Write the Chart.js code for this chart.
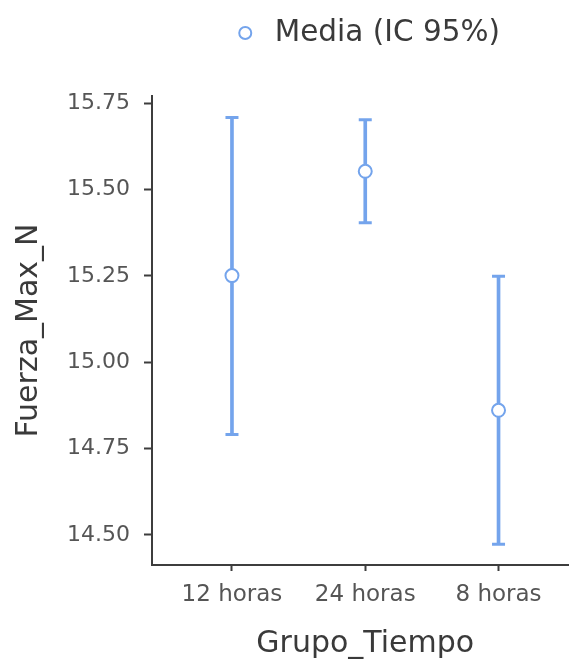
<!DOCTYPE html>
<html>
<head>
<meta charset="utf-8">
<script src="https://cdn.jsdelivr.net/npm/chart.js@4.4.1/dist/chart.umd.min.js"></script>
<style>
  html, body { margin: 0; padding: 0; background: #ffffff; overflow: hidden; width: 569px; height: 662px; }
  canvas { display: block; }
</style>
</head>
<body>
<canvas id="chart" width="588" height="662"></canvas>
<script>
// Group means of Fuerza_Max_N with their 95% confidence intervals
const groups = ['12 horas', '24 horas', '8 horas'];
const means = [15.251, 15.553, 14.861];
const ciLower = [14.791, 15.404, 14.473];
const ciUpper = [15.709, 15.702, 15.249];
const yTicks = [14.50, 14.75, 15.00, 15.25, 15.50, 15.75];

const legendLabel = 'Media (IC 95%)';
const xTitle = 'Grupo_Tiempo';
const yTitle = 'Fuerza_Max_N';

const blue = '#74a4ec';
const axisColor = '#3d3d3d';
const tickLabelColor = '#555555';
const titleColor = '#3a3a3a';
const fontFamily = 'DejaVu Sans';

const pos = (i) => i + 1;

new Chart(document.getElementById('chart'), {
  type: 'bar',
  data: {
    datasets: [
      {
        type: 'line',
        label: legendLabel,
        data: means.map((m, i) => ({ x: pos(i), y: m })),
        xAxisID: 'x', yAxisID: 'y',
        showLine: false,
        pointStyle: 'circle',
        pointRadius: 6.5,
        pointHoverRadius: 6.5,
        pointBackgroundColor: '#ffffff',
        pointBorderColor: blue,
        pointBorderWidth: 2,
        borderColor: blue,
        backgroundColor: '#ffffff',
        order: 0
      },
      {
        type: 'line',
        label: 'upper',
        data: ciUpper.map((v, i) => ({ x: pos(i), y: v })),
        xAxisID: 'x', yAxisID: 'y',
        showLine: false,
        pointStyle: 'line',
        pointRadius: 6.5,
        pointHoverRadius: 6.5,
        pointBorderColor: blue,
        pointBorderWidth: 3,
        order: 1
      },
      {
        type: 'line',
        label: 'lower',
        data: ciLower.map((v, i) => ({ x: pos(i), y: v })),
        xAxisID: 'x', yAxisID: 'y',
        showLine: false,
        pointStyle: 'line',
        pointRadius: 6.5,
        pointHoverRadius: 6.5,
        pointBorderColor: blue,
        pointBorderWidth: 3,
        order: 1
      },
      {
        type: 'bar',
        label: 'ci',
        data: groups.map((g, i) => ({ x: pos(i), y: [ciLower[i], ciUpper[i]] })),
        xAxisID: 'x', yAxisID: 'y',
        backgroundColor: blue,
        borderWidth: 0,
        barThickness: 3,
        order: 2
      }
    ]
  },
  options: {
    responsive: false,
    animation: false,
    events: [],
    layout: { padding: 0 },
    plugins: {
      legend: {
        display: true,
        position: 'top',
        fullSize: false,
        labels: {
          filter: (item) => item.datasetIndex === 0,
          usePointStyle: true,
          boxWidth: 29.5,
          boxHeight: 8.5,
          padding: 18.25,
          color: titleColor,
          font: { family: fontFamily, size: 29.5 }
        }
      },
      tooltip: { enabled: false }
    },
    scales: {
      x: {
        type: 'linear',
        position: 'bottom',
        offset: false,
        min: 0.4,
        max: 3.6,
        afterBuildTicks: (s) => { s.ticks = groups.map((g, i) => ({ value: pos(i) })); },
        afterFit: (s) => { s.height = 97; },
        ticks: {
          callback: (v) => groups[v - 1],
          autoSkip: false,
          maxRotation: 0,
          padding: 10.5,
          color: tickLabelColor,
          font: { family: fontFamily, size: 23 }
        },
        grid: {
          display: true,
          offset: false,
          drawOnChartArea: false,
          drawTicks: true,
          tickLength: 6,
          tickWidth: 2,
          tickColor: axisColor
        },
        border: { display: true, color: axisColor, width: 2 },
        title: {
          display: true,
          text: xTitle,
          color: titleColor,
          font: { family: fontFamily, size: 30 },
          padding: { top: 0, bottom: 0 }
        }
      },
      y: {
        type: 'linear',
        position: 'left',
        min: 14.413,
        max: 15.771,
        afterBuildTicks: (s) => { s.ticks = yTicks.map((v) => ({ value: v })); },
        afterFit: (s) => { s.width = 152; },
        ticks: {
          callback: (v) => Number(v).toFixed(2),
          padding: 14,
          color: tickLabelColor,
          font: { family: fontFamily, size: 22 }
        },
        grid: {
          display: true,
          drawOnChartArea: false,
          drawTicks: true,
          tickLength: 8,
          tickWidth: 2,
          tickColor: axisColor
        },
        border: { display: true, color: axisColor, width: 2 },
        title: {
          display: true,
          text: yTitle,
          color: titleColor,
          font: { family: fontFamily, size: 30 },
          padding: { top: 11.5, bottom: 0 }
        }
      },
      xSpacer: {
        type: 'linear',
        axis: 'x',
        position: 'top',
        display: true,
        ticks: { display: false },
        grid: { display: false },
        border: { display: false },
        afterFit: (s) => { s.height = 38.25; }
      }
    }
  }
});
</script>
</body>
</html>
